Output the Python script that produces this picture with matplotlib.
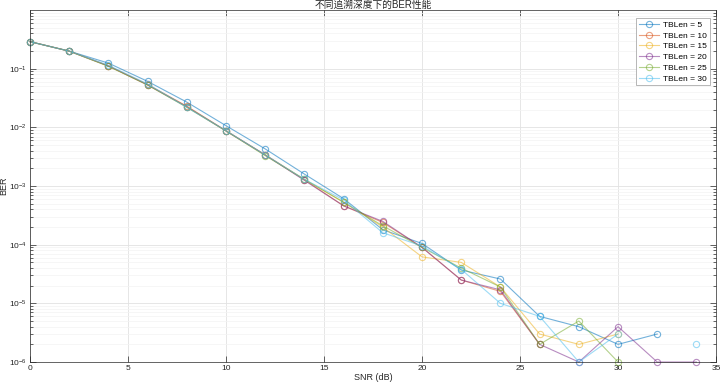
import numpy as np
import matplotlib
matplotlib.use("Agg")
import matplotlib.pyplot as plt
from matplotlib.ticker import LogLocator, NullFormatter, FixedLocator

plt.rcParams['font.family'] = ['Liberation Sans', 'Noto Sans CJK SC', 'DejaVu Sans']
plt.rcParams['axes.unicode_minus'] = False

# SNR points (dB)
snr = [0, 2, 4, 6, 8, 10, 12, 14, 16, 18, 20, 22, 24, 26, 28, 30, 32, 34]
nan = np.nan

# BER per traceback length (nan = no error counted, not drawn on log axis)
ber_tb5 = [0.29, 0.2, 0.125, 0.061, 0.027, 0.0107, 0.0043, 0.0016, 6.1e-4, 1.8e-4,
           1.05e-4, 3.7e-5, 2.6e-5, 6e-6, 4e-6, 2e-6, 3e-6, nan]
ber_tb10 = [0.29, 0.2, 0.112, 0.054, 0.023, 0.0088, 0.0034, 0.00128, 4.6e-4, 2.4e-4,
            9e-5, 2.5e-5, 1.6e-5, 2e-6, nan, nan, nan, nan]
ber_tb15 = [0.29, 0.2, 0.112, 0.053, 0.0225, 0.0087, 0.0034, 0.0013, 5.3e-4, 2.0e-4,
            6.2e-5, 5e-5, 1.9e-5, 3e-6, 2e-6, 3e-6, nan, nan]
ber_tb20 = [0.29, 0.2, 0.112, 0.053, 0.0225, 0.0087, 0.0034, 0.00125, 4.6e-4, 2.5e-4,
            9e-5, 2.5e-5, 1.7e-5, 2e-6, 1e-6, 4e-6, 1e-6, 1e-6]
ber_tb25 = [0.29, 0.2, 0.11, 0.053, 0.022, 0.0087, 0.0033, 0.0013, 5.3e-4, 2.1e-4,
            9e-5, 4e-5, 1.9e-5, 2e-6, 5e-6, 1e-6, nan, nan]
ber_tb30 = [0.29, 0.2, 0.115, 0.055, 0.022, 0.0088, 0.0034, 0.0013, 5.8e-4, 1.6e-4,
            9.5e-5, 3.8e-5, 1e-5, 6e-6, 1e-6, 3e-6, nan, 2e-6]

labels = ['TBLen = 5', 'TBLen = 10', 'TBLen = 15', 'TBLen = 20', 'TBLen = 25', 'TBLen = 30']
series = [ber_tb5, ber_tb10, ber_tb15, ber_tb20, ber_tb25, ber_tb30]
colors = ['#0072BD', '#D95319', '#EDB120', '#7E2F8E', '#77AC30', '#4DBEEE']

x_ticks = [0, 5, 10, 15, 20, 25, 30, 35]
y_ticks = [1e-6, 1e-5, 1e-4, 1e-3, 1e-2, 1e-1]

fig = plt.figure(figsize=(7.2, 3.85), dpi=100)
ax = fig.add_axes([0.0417, 0.0597, 0.9528, 0.9133])

for ber, lab, c in zip(series, labels, colors):
    ax.semilogy(snr, ber, '-o', color=c, alpha=0.55, lw=0.8, ms=4.5,
                mfc='none', mew=0.8, label=lab, clip_on=False)

ax.set_xlim(0, 35)
ax.set_ylim(1e-6, 0.99)
ax.set_xticks(x_ticks)
ax.yaxis.set_major_locator(FixedLocator(y_ticks))
ax.yaxis.set_minor_locator(LogLocator(base=10, subs=np.arange(2, 10), numticks=20))
ax.yaxis.set_minor_formatter(NullFormatter())

ax.grid(True, which='major', color='#e2e2e2', lw=0.6)
ax.grid(True, which='minor', axis='y', color='#f3f3f3', lw=0.5)
ax.set_axisbelow(True)

axis_col = '#262626'
for sp in ax.spines.values():
    sp.set_color(axis_col)
    sp.set_linewidth(0.5)
ax.tick_params(which='both', direction='in', top=True, right=True,
               colors=axis_col, labelsize=6, width=0.5, pad=2)
ax.tick_params(which='major', length=4)
ax.tick_params(which='minor', length=2)

ax.set_xlabel('SNR (dB)', fontsize=6.5, labelpad=1, color=axis_col)
ax.set_ylabel('BER', fontsize=6.5, color=axis_col)
ax.yaxis.set_label_coords(-0.032, 0.5)
ax.set_title('不同追溯深度下的BER性能', fontsize=7, pad=2, color=axis_col)

leg = ax.legend(loc='upper right', fontsize=6, frameon=True, fancybox=False,
                edgecolor='#9a9a9a', framealpha=1, handlelength=2.4,
                borderpad=0.35, labelspacing=0.35, handletextpad=0.5,
                bbox_to_anchor=(0.997, 0.99))
leg.get_frame().set_linewidth(0.5)

fig.savefig('out.png', dpi=100)
